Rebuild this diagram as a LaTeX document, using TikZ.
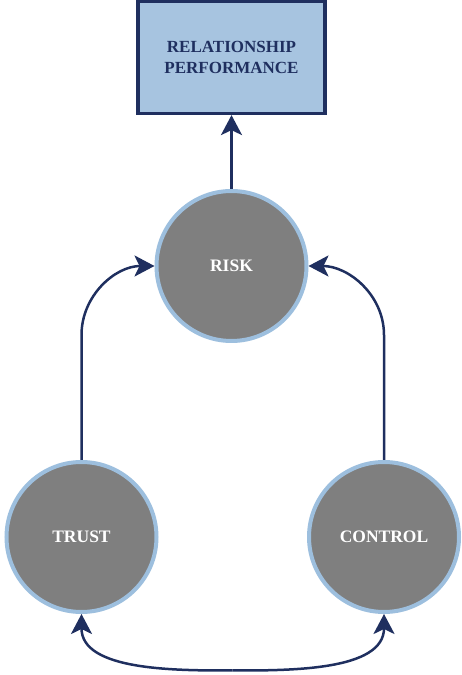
\documentclass[tikz,border=0pt]{standalone}
\usepackage{fontspec}
\setmainfont{Liberation Serif}
\usetikzlibrary{arrows.meta}
\definecolor{navy}{HTML}{1F2F5F}
\definecolor{boxblue}{HTML}{A7C4E0}
\definecolor{ringblue}{HTML}{9DBFDE}
\definecolor{disc}{HTML}{7F7F7F}
\tikzset{
  topbox/.style={draw=navy, line width=3.2pt, fill=boxblue, minimum width=187pt, minimum height=112pt,
    align=center, text=navy, font=\fontsize{17}{21.5}\selectfont\bfseries, inner sep=0pt},
  disk/.style={circle, draw=ringblue, line width=4pt, fill=disc, minimum size=150pt, inner sep=0pt,
    text=white, font=\fontsize{17.5}{21}\selectfont\bfseries},
  link/.style={draw=navy, line width=2.5pt, -{Stealth[length=20pt,width=21pt,inset=5pt]}}
}
\begin{document}
\begin{tikzpicture}[x=1pt,y=1pt]
\useasboundingbox (0,0) rectangle (461,675);
\node[topbox] (perf) at (231.5,617.5) {RELATIONSHIP\\PERFORMANCE};
\node[disk] (risk) at (231.5,409) {RISK};
\node[disk] (trust) at (81.5,138) {TRUST};
\node[disk] (control) at (384,138) {CONTROL};
\coordinate (tbend) at (81.5,340);
\coordinate (cbend) at (384,340);
\coordinate (mid) at (232.5,4.5);
\draw[link] (risk.north) -- (perf.south);
\draw[link] (trust.north) -- (tbend) to[out=90,in=180] (risk.west);
\draw[link] (control.north) -- (cbend) to[out=90,in=0] (risk.east);
\draw[link] (mid) to[out=180,in=-90,looseness=0.9] (trust.south);
\draw[link] (mid) to[out=0,in=-90,looseness=0.9] (control.south);
\end{tikzpicture}
\end{document}
